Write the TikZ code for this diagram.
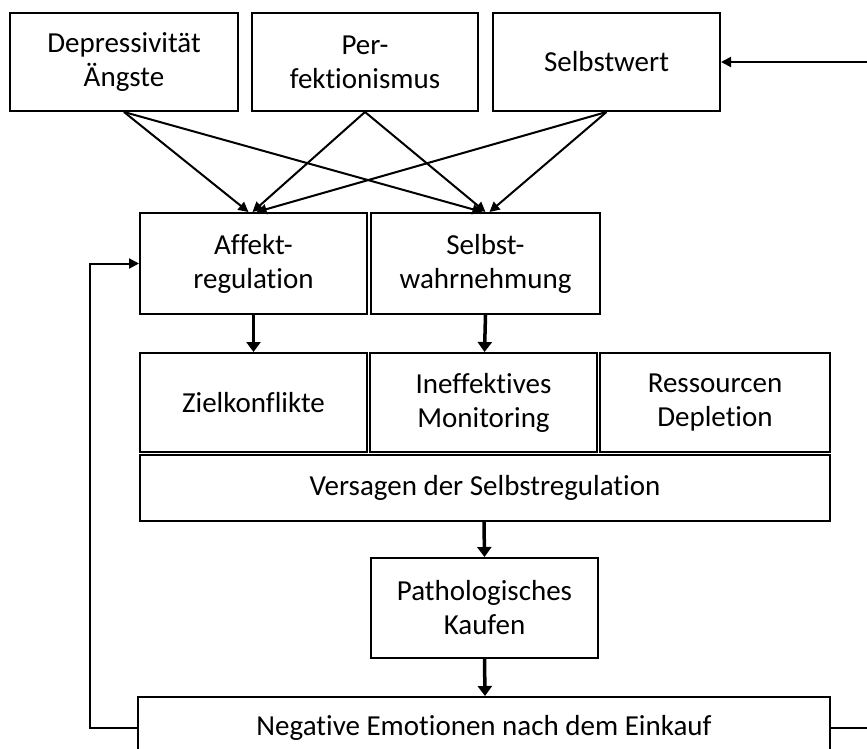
\documentclass[tikz,border=0pt]{standalone}
\usepackage{fontspec}
\setmainfont{Carlito}[Ligatures=NoCommon]
\usetikzlibrary{arrows.meta}
\begin{document}
\begin{tikzpicture}[x=1pt,y=-1pt,
  box/.style={draw, line width=2pt, rectangle, inner sep=0pt, align=center,
              font=\fontsize{29}{34}\selectfont},
  arr/.style={line width=2pt, -{Triangle[length=10pt,width=10pt]}},
  down/.style={line width=3.5pt, -{Triangle[length=10pt,width=14pt]}}]
\useasboundingbox (0,0) rectangle (867,749);
\clip (0,0) rectangle (867,749);

% top row: factors
\node[box, minimum width=228pt, minimum height=98pt] (dep) at (124,62) {Depressivität\\Ängste};
\node[box, minimum width=226pt, minimum height=98pt] (per) at (365,62) {Per-\\fektionismus};
\node[box, minimum width=227pt, minimum height=98pt] (sel) at (606.5,62) {Selbstwert};

% middle row
\node[box, minimum width=227pt, minimum height=101pt] (aff) at (253.5,263.5) {Affekt-\\regulation};
\node[box, minimum width=229pt, minimum height=101pt] (wah) at (485.5,263.5) {Selbst-\\wahrnehmung};

% mechanisms
\node[box, minimum width=227pt, minimum height=99pt] (ziel) at (253.5,402.5) {Zielkonflikte};
\node[box, minimum width=227pt, minimum height=99pt] (ine) at (483.5,402.5) {Ineffektives\\Monitoring};
\node[box, minimum width=230pt, minimum height=99pt] (res) at (715,402.5) {Ressourcen\\Depletion};
\node[box, minimum width=690pt, minimum height=66pt] (ver) at (485,488) {Versagen der Selbstregulation};

% outcome
\node[box, minimum width=227pt, minimum height=100pt] (pat) at (484.5,608) {Pathologisches\\Kaufen};
\node[box, minimum width=692pt, minimum height=62pt] (neg) at (484,728) {Negative Emotionen nach dem Einkauf};

% crossing influences
\draw[arr] (dep.south) -- ([xshift=-5pt]aff.north);
\draw[arr] (per.south) -- ([xshift=-1pt]aff.north);
\draw[arr] (sel.south) -- ([xshift=3pt]aff.north);
\draw[arr] (dep.south) -- ([xshift=-3pt]wah.north);
\draw[arr] (per.south) -- ([xshift=0pt]wah.north);
\draw[arr] (sel.south) -- ([xshift=4pt]wah.north);

% vertical flow
\draw[down] (aff.south) -- (ziel.north);
\draw[down] (wah.south) -- ([xshift=1pt]ine.north);
\draw[down] ([xshift=-1pt]ver.south) -- (pat.north);
\draw[down] (pat.south) -- ([xshift=1pt]neg.north);

% feedback loops
\coordinate (lp) at (90,728);
\draw[arr] (neg.west) -- (lp) |- (aff.west);
\draw[arr] (neg.east) -- ++(60,0) |- (sel.east);
\end{tikzpicture}
\end{document}
